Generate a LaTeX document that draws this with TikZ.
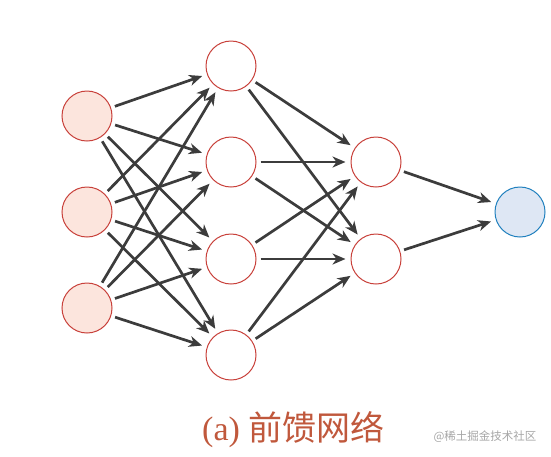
\documentclass[tikz,border=0pt]{standalone}
\usepackage{fontspec}
\setmainfont{Liberation Serif}
\newfontfamily\cjk{Noto Sans CJK SC}
\usetikzlibrary{arrows.meta}
\definecolor{edgecol}{HTML}{3C3C3C}
\definecolor{redline}{HTML}{C8403A}
\definecolor{pinkfill}{HTML}{FCE5DD}
\definecolor{bluefill}{HTML}{DEE7F4}
\definecolor{blueline}{HTML}{2080BE}
\definecolor{captioncol}{HTML}{C0583C}
\begin{document}
\begin{tikzpicture}[x=1pt,y=-1pt,
  neuron/.style={circle,minimum size=50pt,inner sep=0pt,line width=1pt},
  inputn/.style={neuron,draw=redline,fill=pinkfill},
  hiddenn/.style={neuron,draw=redline,fill=white},
  outputn/.style={neuron,draw=blueline,fill=bluefill},
  conn/.style={draw=edgecol,line width=2.7pt,-{Stealth[length=13pt,width=11pt,inset=4pt]},shorten >=5pt,shorten <=4pt}]
\useasboundingbox (0,0) rectangle (551,456);
\node[inputn] (i1) at (87,116) {};
\node[inputn] (i2) at (87,212) {};
\node[inputn] (i3) at (87,308) {};
\node[hiddenn] (h1) at (231,66) {};
\node[hiddenn] (h2) at (231,162) {};
\node[hiddenn] (h3) at (231,259) {};
\node[hiddenn] (h4) at (231,355) {};
\node[hiddenn] (g1) at (376,162) {};
\node[hiddenn] (g2) at (376,259) {};
\node[outputn] (o) at (520,212) {};
\foreach \a in {i1,i2,i3}{\foreach \b in {h1,h2,h3,h4}{\draw[conn] (\a) -- (\b);}}
\foreach \a in {h1,h2,h3,h4}{\foreach \b in {g1,g2}{\draw[conn] (\a) -- (\b);}}
\foreach \a in {g1,g2}{\draw[conn] (\a) -- (o);}
\node[text=captioncol,font=\fontsize{34}{38}\selectfont,anchor=base west,inner sep=0pt] (cap) at (202,440) {(a) {\cjk 前馈网络}};
\node[text=gray!70,font=\cjk\fontsize{11.5}{13}\selectfont,anchor=east] (wm) at (540,437) {@稀土掘金技术社区};
\end{tikzpicture}
\end{document}
